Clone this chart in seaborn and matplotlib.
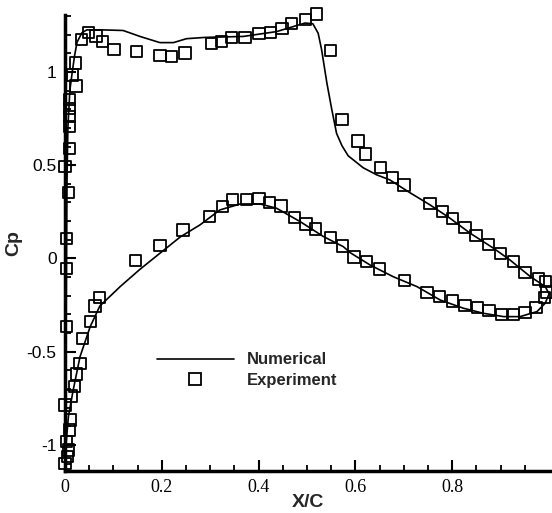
import numpy as np
import pandas as pd
import matplotlib
matplotlib.use("Agg")
import matplotlib.pyplot as plt
from matplotlib.lines import Line2D
import seaborn as sns

# ---------------- data ----------------
num_x = [0.000, 0.001, 0.002, 0.003, 0.004, 0.006, 0.010, 0.015, 0.020, 0.025,
         0.035, 0.045, 0.080, 0.120, 0.155, 0.196, 0.224, 0.251, 0.290, 0.368,
         0.437, 0.496, 0.512, 0.523, 0.530, 0.541, 0.551, 0.561, 0.572, 0.585,
         0.616, 0.644, 0.671, 0.709, 0.754, 0.795, 0.837, 0.885, 0.919, 0.961,
         0.992, 1.000,
         0.992, 0.975, 0.940, 0.906, 0.864, 0.823, 0.775, 0.727, 0.678, 0.630,
         0.589, 0.575, 0.534, 0.486, 0.437, 0.403, 0.362, 0.320, 0.279, 0.238,
         0.155, 0.114, 0.072, 0.052, 0.031, 0.017, 0.007, 0.002, 0.000]
num_cp = [-1.13, -0.90, -0.50, 0.00, 0.40, 0.70, 0.90, 1.00, 1.09, 1.16,
          1.21, 1.225, 1.225, 1.222, 1.190, 1.157, 1.157, 1.178, 1.185, 1.190,
          1.216, 1.262, 1.258, 1.207, 1.120, 0.940, 0.800, 0.670, 0.605, 0.550,
          0.486, 0.448, 0.421, 0.358, 0.287, 0.216, 0.135, 0.055, -0.008, -0.097,
          -0.151, -0.190,
          -0.240, -0.285, -0.312, -0.312, -0.294, -0.267, -0.223, -0.151, -0.098, -0.035,
          0.031, 0.063, 0.117, 0.197, 0.269, 0.292, 0.292, 0.260, 0.180, 0.115,
          -0.058, -0.151, -0.255, -0.366, -0.527, -0.705, -0.848, -1.000, -1.130]

exp_x = [0.010, 0.010, 0.010, 0.010, 0.023, 0.016, 0.021, 0.034, 0.048, 0.064,
         0.078, 0.101, 0.147, 0.196, 0.220, 0.248, 0.303, 0.324, 0.344, 0.372,
         0.401, 0.424, 0.448, 0.468, 0.497, 0.519, 0.548, 0.572, 0.605, 0.621,
         0.651, 0.676, 0.700, 0.754, 0.780, 0.801, 0.826, 0.849, 0.875, 0.900,
         0.927, 0.950, 0.978, 0.992,
         0.000, 0.009, 0.007, 0.003, 0.003, 0.003,
         0.000, 0.005, 0.007, 0.003, 0.009, 0.012, 0.000, 0.014, 0.019, 0.024,
         0.031, 0.036, 0.052, 0.062, 0.072, 0.145, 0.196, 0.244, 0.298, 0.326,
         0.346, 0.375, 0.401, 0.422, 0.446, 0.474, 0.498, 0.518, 0.548, 0.573,
         0.597, 0.623, 0.650, 0.702, 0.748, 0.774, 0.800, 0.826, 0.852, 0.876,
         0.902, 0.926, 0.950, 0.973, 0.990, 0.995]
exp_cp = [0.707, 0.760, 0.805, 0.853, 0.925, 0.984, 1.047, 1.175, 1.210, 1.193,
          1.163, 1.120, 1.109, 1.086, 1.082, 1.102, 1.154, 1.163, 1.186, 1.184,
          1.204, 1.212, 1.234, 1.258, 1.279, 1.310, 1.116, 0.746, 0.630, 0.560,
          0.486, 0.435, 0.394, 0.296, 0.251, 0.215, 0.167, 0.122, 0.076, 0.026,
          -0.018, -0.075, -0.110, -0.124,
          0.492, 0.591, 0.353, 0.108, -0.053, -0.366,
          -1.098, -1.063, -1.027, -0.980, -0.920, -0.866, -0.786, -0.737, -0.687, -0.619,
          -0.562, -0.428, -0.339, -0.255, -0.208, -0.012, 0.070, 0.153, 0.224, 0.278,
          0.314, 0.317, 0.323, 0.299, 0.281, 0.221, 0.185, 0.157, 0.114, 0.067,
          0.008, -0.015, -0.057, -0.119, -0.182, -0.206, -0.229, -0.253, -0.264, -0.281,
          -0.300, -0.299, -0.290, -0.263, -0.209, -0.180]

x_major = [0.0, 0.2, 0.4, 0.6, 0.8]
x_major_labels = ["0", "0.2", "0.4", "0.6", "0.8"]
y_major = [-1.0, -0.5, 0.0, 0.5, 1.0]
y_major_labels = ["-1", "-0.5", "0", "0.5", "1"]

num_df = pd.DataFrame({"X/C": num_x, "Cp": num_cp})
exp_df = pd.DataFrame({"X/C": exp_x, "Cp": exp_cp})

# ---------------- figure ----------------
sns.set_style("ticks")
plt.rcParams["font.family"] = ["Liberation Sans", "DejaVu Sans"]

fig = plt.figure(figsize=(5.52, 5.13), dpi=100)
ax = fig.add_axes([65 / 552, 42.3 / 513, 487 / 552, 455.7 / 513])

sns.lineplot(data=num_df, x="X/C", y="Cp", sort=False, estimator=None,
             color="black", linewidth=1.2, ax=ax)
sns.scatterplot(data=exp_df, x="X/C", y="Cp", marker="s", s=66,
                facecolor="none", edgecolor="black", linewidth=1.3,
                clip_on=False, zorder=3, ax=ax)

ax.set_xlim(0, 1.006)
ax.set_ylim(-1.138, 1.305)

ax.set_xticks(x_major)
ax.set_xticklabels(x_major_labels, fontfamily="Liberation Serif", fontsize=13)
ax.set_xticks([i * 0.05 for i in range(20)], minor=True)
ax.set_yticks(y_major)
ax.set_yticklabels(y_major_labels, fontfamily="Liberation Sans", fontsize=12.5)
ax.set_yticks([round(-1.1 + i * 0.1, 2) for i in range(25)], minor=True)

ax.tick_params(axis="both", which="major", direction="in", length=8, width=1.5,
               colors="black")
ax.tick_params(axis="both", which="minor", direction="in", length=4, width=1.3,
               colors="black")
ax.tick_params(axis="x", which="major", pad=6)
ax.tick_params(axis="y", which="major", pad=6)

for side in ["top", "right"]:
    ax.spines[side].set_visible(False)
for side in ["left", "bottom"]:
    ax.spines[side].set_linewidth(2.5)
    ax.spines[side].set_color("black")

ax.set_xlabel("X/C", fontsize=14, fontweight="bold")
ax.set_ylabel("Cp", fontsize=14, fontweight="bold")
ax.xaxis.set_label_coords(308 / 552, 1 - 494 / 513, transform=fig.transFigure)
ax.yaxis.set_label_coords(22 / 552, 1 - 243 / 513, transform=fig.transFigure)

handles = [
    Line2D([], [], color="black", linewidth=1.2),
    Line2D([], [], linestyle="none", marker="s", markersize=8,
           markerfacecolor="none", markeredgecolor="black", markeredgewidth=1.3),
]
ax.legend(handles, ["Numerical", "Experiment"], loc="center left",
          bbox_to_anchor=(157 / 552, 1 - 370 / 513), bbox_transform=fig.transFigure,
          frameon=False, borderpad=0, borderaxespad=0, handlelength=4.6,
          handletextpad=0.8, labelspacing=0.3,
          prop={"family": "Liberation Sans", "weight": "bold", "size": 12})

fig.savefig("out.png", dpi=100)
